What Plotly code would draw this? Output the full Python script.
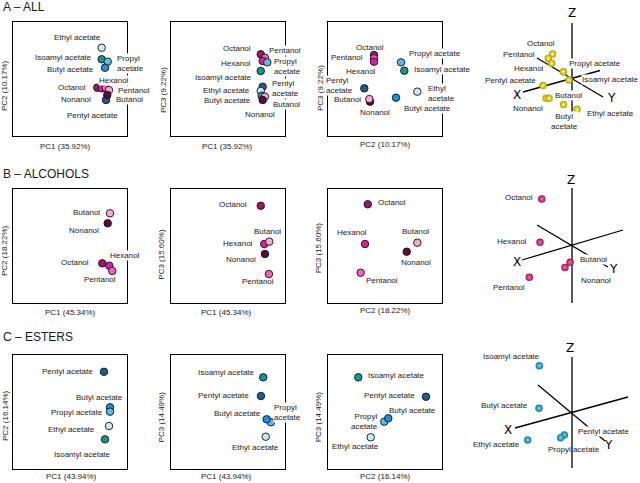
import plotly.graph_objects as go

W, H = 640, 483
FONT = "Liberation Sans, Arial, Helvetica, sans-serif"
TXT = "#1a1a1a"

# ---------------------------------------------------------------- data
COLORS = {
    "Ethyl acetate": "#C9E9F6",
    "Isoamyl acetate": "#17978A",
    "Propyl acetate": "#5BB9EC",
    "Butyl acetate": "#1D8FE1",
    "Pentyl acetate": "#1B5D95",
    "Octanol": "#9A1A6E",
    "Hexanol": "#E01C9D",
    "Pentanol": "#F064BE",
    "Butanol": "#F6A8DA",
    "Nonanol": "#5A0C40",
}
# 3-D ball colours per row: (edge, highlight)
BALL = {"A": ("#AF9E00", "#FFFF78"), "B": ("#A00E52", "#F27AB0"), "C": ("#11789C", "#7ADCF6")}

# A - ALL  (scores, panel-normalised 0-100)
a1_names = ["Ethyl acetate", "Isoamyl acetate", "Propyl acetate", "Butyl acetate", "Pentyl acetate",
            "Octanol", "Hexanol", "Pentanol", "Butanol", "Nonanol"]
a1_x = [77.8, 77.8, 83.1, 80.7, 81.6, 73.9, 77.8, 81.3, 84.2, 82.7]
a1_y = [77.4, 67.3, 65.2, 59.9, 31.6, 42.4, 41.8, 42.4, 40.3, 36.0]

a2_names = ["Octanol", "Pentanol", "Hexanol", "Propyl acetate", "Isoamyl acetate", "Pentyl acetate",
            "Ethyl acetate", "Butyl acetate", "Butanol", "Nonanol"]
a2_x = [78.7, 82.4, 80.4, 84.5, 78.7, 80.4, 78.7, 79.5, 82.4, 80.4]
a2_y = [71.7, 68.7, 65.8, 64.6, 57.0, 43.2, 39.5, 35.3, 34.5, 31.6]

a3_names = ["Octanol", "Pentanol", "Hexanol", "Propyl acetate", "Isoamyl acetate", "Pentyl acetate",
            "Ethyl acetate", "Butyl acetate", "Nonanol", "Butanol"]
a3_x = [40.8, 40.8, 40.8, 64.5, 67.4, 32.3, 78.8, 60.1, 37.3, 36.7]
a3_y = [71.0, 68.1, 65.2, 64.6, 57.3, 41.8, 38.9, 33.6, 30.1, 32.4]

a4_names = ["Octanol", "Pentanol", "Hexanol", "Propyl acetate", "Isoamyl acetate", "Pentyl acetate",
            "Nonanol", "Butanol", "Butyl acetate", "Ethyl acetate"]
a4_x = [45.4, 42.7, 44.8, 52.1, 55.6, 39.4, 41.3, 43.1, 52.2, 60.6]
a4_y = [61.4, 58.3, 54.8, 48.8, 42.8, 38.9, 29.8, 29.8, 25.3, 21.9]

# B - ALCOHOLS
b1_names = ["Butanol", "Nonanol", "Octanol", "Hexanol", "Pentanol"]
b1_x = [85.1, 83.1, 78.3, 84.5, 87.1]
b1_y = [78.7, 69.9, 34.8, 32.7, 28.1]

b2_names = ["Octanol", "Hexanol", "Butanol", "Nonanol", "Pentanol"]
b2_x = [78.7, 81.8, 86.2, 82.4, 85.9]
b2_y = [85.3, 51.7, 53.8, 43.0, 25.4]

b3_names = ["Octanol", "Hexanol", "Butanol", "Nonanol", "Pentanol"]
b3_x = [35.3, 32.9, 78.8, 69.5, 29.1]
b3_y = [86.6, 51.7, 52.9, 45.0, 26.6]

b4_names = ["Octanol", "Hexanol", "Nonanol", "Butanol", "Pentanol"]
b4_x = [38.6, 37.5, 53.1, 56.3, 30.8]
b4_y = [77.1, 46.2, 28.3, 31.9, 21.2]

# C - ESTERS
c1_names = ["Pentyl acetate", "Butyl acetate", "Propyl acetate", "Ethyl acetate", "Isoamyl acetate"]
c1_x = [79.8, 85.1, 85.1, 84.2, 80.7]
c1_y = [85.3, 54.1, 50.3, 37.7, 26.0]

c2_names = ["Isoamyl acetate", "Pentyl acetate", "Propyl acetate", "Butyl acetate", "Ethyl acetate"]
c2_x = [80.9, 78.9, 87.7, 83.9, 83.1]
c2_y = [80.4, 64.0, 41.0, 43.6, 28.3]

c3_names = ["Isoamyl acetate", "Pentyl acetate", "Propyl acetate", "Butyl acetate", "Ethyl acetate"]
c3_x = [27.0, 86.4, 49.8, 53.3, 37.9]
c3_y = [80.4, 63.4, 41.5, 44.5, 27.8]

c4_names = ["Isoamyl acetate", "Butyl acetate", "Ethyl acetate", "Pentyl acetate", "Propyl acetate"]
c4_x = [37.1, 36.9, 29.8, 52.7, 50.4]
c4_y = [81.6, 51.2, 28.6, 32.1, 30.2]

# ---------------------------------------------------------------- layout
def PX(x):
    return x / W

def PY(y):
    return 1 - y / H

BOX = 114
# label specs: (name, text override, x px, y px, anchor, white bg)
a1_lab = [("Ethyl acetate", None, 77.3, 37.3, "center", False),
          ("Isoamyl acetate", None, 93.3, 57.3, "right", False),
          ("Butyl acetate", None, 95, 70, "right", False),
          ("Propyl acetate", "Propyl<br>acetate", 116, 63, "left", True),
          ("Hexanol", None, 113.7, 80.7, "center", True),
          ("Octanol", None, 87.3, 87.3, "right", False),
          ("Pentanol", None, 116.7, 91, "left", True),
          ("Nonanol", None, 92.3, 99.3, "right", False),
          ("Butanol", None, 115, 100, "left", True),
          ("Pentyl acetate", None, 92.8, 115, "center", False)]
a2_lab = [("Octanol", None, 252.3, 48.3, "right", False),
          ("Pentanol", None, 268.3, 50.7, "left", True),
          ("Hexanol", None, 251.7, 63.3, "right", False),
          ("Propyl acetate", "Propyl<br>acetate", 273.3, 66.2, "left", True),
          ("Isoamyl acetate", None, 253.3, 77.3, "right", False),
          ("Pentyl acetate", "Pentyl<br>acetate", 270.7, 88.3, "left", True),
          ("Ethyl acetate", None, 250.7, 90.7, "right", False),
          ("Butyl acetate", None, 252.3, 100.7, "right", False),
          ("Butanol", None, 271.7, 105, "left", True),
          ("Nonanol", None, 259.7, 114.3, "center", False)]
a3_lab = [("Octanol", None, 370, 47.3, "center", False),
          ("Pentanol", None, 364.3, 57.3, "right", False),
          ("Propyl acetate", None, 408.3, 54, "left", True),
          ("Hexanol", None, 360.8, 71.7, "center", False),
          ("Isoamyl acetate", None, 412.7, 70, "left", True),
          ("Pentyl acetate", "Pentyl<br>acetate", 354, 85.8, "right", True),
          ("Ethyl acetate", "Ethyl<br>acetate", 426.7, 93.5, "left", True),
          ("Butanol", None, 361.7, 100, "right", True),
          ("Nonanol", None, 375.3, 112.7, "center", False),
          ("Butyl acetate", None, 402.7, 108.3, "left", True)]
a4_lab = [("Octanol", None, 540.8, 43.3, "center", False),
          ("Pentanol", None, 536, 54.3, "right", False),
          ("Hexanol", None, 545, 69, "right", False),
          ("Propyl acetate", None, 568.3, 64, "left", True),
          ("Pentyl acetate", None, 537.3, 80.7, "right", False),
          ("Isoamyl acetate", None, 639.5, 80, "right", True),
          ("Butanol", None, 554, 96, "left", True),
          ("Nonanol", None, 528, 108.3, "center", False),
          ("Ethyl acetate", None, 586, 113.3, "left", True),
          ("Butyl acetate", "Butyl<br>acetate", 564.7, 121.2, "center", True)]
b1_lab = [("Butanol", None, 100.7, 212.7, "right", False),
          ("Nonanol", None, 100, 230.7, "right", False),
          ("Hexanol", None, 125, 255.7, "center", True),
          ("Octanol", None, 90, 262.3, "right", False),
          ("Pentanol", None, 100, 279, "center", False)]
b2_lab = [("Octanol", None, 248.3, 204.3, "right", False),
          ("Butanol", None, 267.8, 231.7, "center", False),
          ("Hexanol", None, 254, 243.3, "right", False),
          ("Nonanol", None, 256.7, 259.3, "right", False),
          ("Pentanol", None, 257.8, 281, "center", False)]
b3_lab = [("Octanol", None, 376.7, 202.7, "left", False),
          ("Hexanol", None, 351.7, 232.7, "center", False),
          ("Butanol", None, 415.8, 231.7, "center", False),
          ("Nonanol", None, 415.8, 262.7, "center", False),
          ("Pentanol", None, 365, 280, "left", False)]
b4_lab = [("Octanol", None, 534.3, 197.7, "right", False),
          ("Hexanol", None, 528.3, 241, "right", False),
          ("Butanol", None, 579.3, 259.3, "left", True),
          ("Nonanol", None, 580, 280.7, "left", False),
          ("Pentanol", None, 526, 287.7, "right", False)]
c1_lab = [("Pentyl acetate", None, 94, 371.7, "right", False),
          ("Butyl acetate", None, 124, 397.7, "right", False),
          ("Propyl acetate", None, 104, 412.7, "right", False),
          ("Ethyl acetate", None, 96, 429, "right", False),
          ("Isoamyl acetate", None, 82.8, 454.3, "center", False)]
c2_lab = [("Isoamyl acetate", None, 256, 372.7, "right", False),
          ("Pentyl acetate", None, 250, 395.7, "right", False),
          ("Butyl acetate", None, 262.3, 413.3, "right", False),
          ("Propyl acetate", "Propyl<br>acetate", 272.7, 412.5, "left", True),
          ("Ethyl acetate", None, 255.5, 447.7, "center", False)]
c3_lab = [("Isoamyl acetate", None, 367.3, 375, "left", False),
          ("Pentyl acetate", None, 416, 395.7, "right", False),
          ("Butyl acetate", None, 412.2, 410, "center", False),
          ("Propyl acetate", "Propyl<br>acetate", 379.3, 421.7, "right", False),
          ("Ethyl acetate", None, 355.8, 446.7, "center", False)]
c4_lab = [("Isoamyl acetate", None, 511.2, 356.7, "center", False),
          ("Butyl acetate", None, 529.3, 405, "right", False),
          ("Ethyl acetate", None, 521, 444, "right", False),
          ("Pentyl acetate", None, 576.7, 431.7, "left", True),
          ("Propyl acetate", None, 546.7, 449, "left", False)]

panels = [
    # name, kind, names, x, y, box(x0, ytop), xtitle(text, x, y), ytitle(text, x, y), labels, row
    ("a1", "2d", a1_names, a1_x, a1_y, (13, 22), ("PC1 (35.92%)", 65, 146), ("PC2 (10.17%)", 5, 86), a1_lab, "A"),
    ("a2", "2d", a2_names, a2_x, a2_y, (171, 22), ("PC1 (35.92%)", 227.5, 146), ("PC3 (9.22%)", 163, 90), a2_lab, "A"),
    ("a3", "2d", a3_names, a3_x, a3_y, (327.5, 22), ("PC2 (10.17%)", 385.3, 145), ("PC3 (9.22%)", 320, 88), a3_lab, "A"),
    ("a4", "3d", a4_names, a4_x, a4_y, (480, 0), None, None, a4_lab, "A"),
    ("b1", "2d", b1_names, b1_x, b1_y, (13, 189), ("PC1 (45.34%)", 70.5, 312.3), ("PC2 (18.22%)", 5, 251), b1_lab, "B"),
    ("b2", "2d", b2_names, b2_x, b2_y, (171, 189), ("PC1 (45.34%)", 226, 312.3), ("PC3 (15.60%)", 161.7, 254), b2_lab, "B"),
    ("b3", "2d", b3_names, b3_x, b3_y, (327.5, 189), ("PC2 (18.22%)", 385, 310.7), ("PC3 (15.60%)", 318.3, 248), b3_lab, "B"),
    ("b4", "3d", b4_names, b4_x, b4_y, (480, 167), None, None, b4_lab, "B"),
    ("c1", "2d", c1_names, c1_x, c1_y, (13, 355), ("PC1 (43.94%)", 71.7, 476.5), ("PC2 (16.14%)", 5, 416), c1_lab, "C"),
    ("c2", "2d", c2_names, c2_x, c2_y, (171, 355), ("PC1 (43.94%)", 226.7, 476.5), ("PC3 (14.49%)", 161.7, 416.7), c2_lab, "C"),
    ("c3", "2d", c3_names, c3_x, c3_y, (327.5, 355), ("PC2 (16.14%)", 385.5, 476), ("PC3 (14.49%)", 318.3, 417), c3_lab, "C"),
    ("c4", "3d", c4_names, c4_x, c4_y, (480, 340), None, None, c4_lab, "C"),
]

# pseudo-3D axes of the right-hand panels (px): Z, X, Y lines + letter positions
axes3d = {
    "A": dict(z=((572, 23), (572, 118)), x=((523, 92), (600, 70.5)), y=((537, 58), (603, 97)),
              zl=(572, 13), xl=(516.7, 95), yl=(611.7, 98.3)),
    "B": dict(z=((572, 188), (572, 303)), x=((522, 260), (623, 230)), y=((537, 225), (608, 267)),
              zl=(571, 180), xl=(517, 262), yl=(613, 269)),
    "C": dict(z=((572, 357), (572, 468)), x=((515, 428), (628, 397)), y=((538, 385), (605, 441)),
              zl=(570, 348), xl=(508, 430), yl=(608, 445)),
}

titles = [("A \u2013 ALL", 1, 7), ("B \u2013 ALCOHOLS", 1, 174), ("C \u2013 ESTERS", 1, 337)]

fig = go.Figure()
layout = dict(width=W, height=H, margin=dict(l=0, r=0, t=0, b=0), autosize=False,
              paper_bgcolor="white", plot_bgcolor="white", showlegend=False)
annotations = []
shapes = []


def label_font(size=8):
    return dict(size=size, family=FONT, color=TXT)


for i, (key, kind, names, xs, ys, (x0, y0), xt, yt, labs, row) in enumerate(panels, start=1):
    sfx = "" if i == 1 else str(i)
    if kind == "2d":
        xdom = [PX(x0), PX(x0 + BOX)]
        ydom = [PY(y0 + BOX), PY(y0)]
        common = dict(range=[0, 100], showline=True, mirror=True, linecolor="black", linewidth=1.3,
                      ticks="", showticklabels=False, showgrid=False, zeroline=False, fixedrange=True)
        marker = dict(size=7.5, color=[COLORS[n] for n in names], line=dict(color="#111", width=0.9))
    else:
        xdom = [PX(x0), PX(x0 + 160)]
        ydom = [PY(y0 + 140), PY(y0)]
        common = dict(range=[0, 100], visible=False, fixedrange=True)
        edge, hi = BALL[row]
        marker = dict(size=7.5, color=edge, gradient=dict(type="radial", color=hi), line=dict(width=0))
    layout["xaxis" + sfx] = dict(domain=xdom, anchor="y" + sfx, **common)
    layout["yaxis" + sfx] = dict(domain=ydom, anchor="x" + sfx, **common)
    fig.add_trace(go.Scatter(x=xs, y=ys, mode="markers", marker=marker, text=names,
                             hoverinfo="text", xaxis="x" + sfx, yaxis="y" + sfx, cliponaxis=False))
    if xt:
        annotations.append(dict(x=PX(xt[1]), y=PY(xt[2]), xref="paper", yref="paper", text=xt[0],
                                showarrow=False, xanchor="center", yanchor="middle", font=label_font()))
    if yt:
        annotations.append(dict(x=PX(yt[1]), y=PY(yt[2]), xref="paper", yref="paper", text=yt[0],
                                textangle=-90, showarrow=False, xanchor="center", yanchor="middle",
                                font=label_font()))
    for (n, txt, lx, ly, anc, bg) in labs:
        a = dict(x=PX(lx), y=PY(ly), xref="paper", yref="paper", text=txt or n, showarrow=False,
                 xanchor=anc, yanchor="middle", align="left" if anc == "left" else ("right" if anc == "right" else "center"),
                 font=label_font(), borderpad=0)
        if key == "a3" and n == "Pentyl acetate":
            a["align"] = "left"
        if bg:
            a["bgcolor"] = "white"
        annotations.append(a)

# pseudo-3D axes (drawn below annotations)
for row, spec in axes3d.items():
    for k in ("z", "x", "y"):
        (xa, ya), (xb, yb) = spec[k]
        shapes.append(dict(type="line", xref="paper", yref="paper", x0=PX(xa), y0=PY(ya),
                           x1=PX(xb), y1=PY(yb), line=dict(color="black", width=1.3), layer="below"))
    for letter, key in (("Z", "zl"), ("X", "xl"), ("Y", "yl")):
        lx, ly = spec[key]
        annotations.append(dict(x=PX(lx), y=PY(ly), xref="paper", yref="paper", text=letter,
                                showarrow=False, xanchor="center", yanchor="middle",
                                font=dict(size=12, family="DejaVu Sans, sans-serif", color="black")))

for t, tx, ty in titles:
    annotations.append(dict(x=PX(tx), y=PY(ty), xref="paper", yref="paper", text=t, showarrow=False,
                            xanchor="left", yanchor="middle", font=dict(size=12, family=FONT, color=TXT)))

layout["annotations"] = annotations
layout["shapes"] = shapes
fig.update_layout(**layout)
# remove the browser's default 8px body margin so the figure sits at the page origin
fig.write_html("out.html", config={"displayModeBar": False},
               post_script="document.body.style.margin='0px';")
